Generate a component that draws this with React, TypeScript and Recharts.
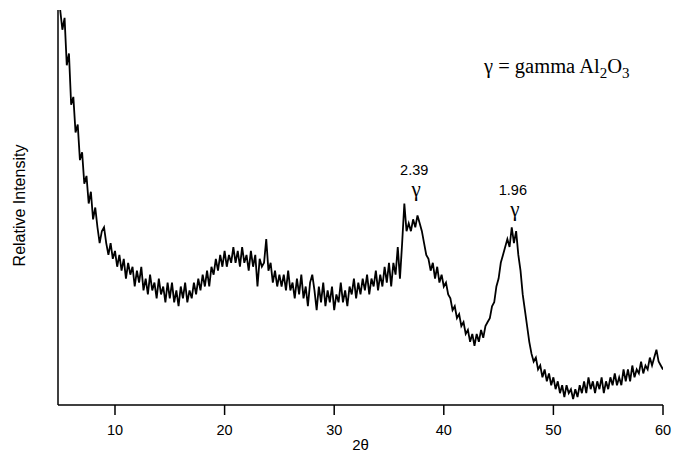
import React from 'react';
import { LineChart, Line, XAxis, YAxis, ReferenceDot } from 'recharts';

// 2θ sampling of the scan
const START_2THETA = 5.0;
const STEP_2THETA = 0.2;

const intensity: number[] = [
  100, 95, 98, 86, 89, 76, 78, 69, 71, 62, // 5.0
  64, 56, 58, 51, 54, 47, 50, 45, 41, 44, // 7.0
  45, 41, 38, 41, 37, 39, 35, 38, 34, 37, // 9.0
  32, 36, 33, 35, 30, 34, 31, 35, 29, 32, // 11.0
  28, 33, 29, 31, 27, 32, 28, 30, 26, 31, // 13.0
  27, 31, 26, 29, 25, 30, 27, 31, 26, 29, // 15.0
  27, 31, 28, 32, 29, 33, 30, 34, 30, 35, // 17.0
  33, 37, 34, 38, 35, 39, 35, 38, 36, 40, // 19.0
  36, 39, 35, 40, 36, 38, 34, 39, 35, 38, // 21.0
  30, 37, 35, 36, 42, 34, 36, 31, 34, 30, // 23.0
  33, 30, 33, 29, 34, 29, 31, 27, 32, 28, // 25.0
  33, 27, 30, 25, 31, 33, 29, 24, 30, 26, // 27.0
  31, 25, 29, 26, 30, 24, 28, 26, 31, 26, // 29.0
  29, 25, 30, 28, 32, 27, 31, 28, 32, 29, // 31.0
  33, 28, 32, 30, 34, 29, 33, 30, 35, 31, // 33.0
  36, 30, 36, 33, 40, 32, 41, 51, 44, 46, // 35.0
  44, 47, 45, 48, 46, 44, 41, 38, 37, 34, // 37.0
  36, 32, 35, 31, 33, 30, 31, 28, 27, 24, // 39.0
  25, 22, 23, 20, 21, 18, 19, 16, 18, 15, // 41.0
  18, 16, 19, 17, 20, 21, 22, 25, 26, 30, // 43.0
  32, 36, 38, 40, 42, 40, 45, 41, 44, 38, // 45.0
  34, 28, 24, 20, 16, 13, 11, 12, 9, 10, // 47.0
  7, 9, 6, 8, 5, 7, 4, 6, 3, 5, // 49.0
  2, 5, 3, 4, 1.5, 4, 2, 5, 3, 6, // 51.0
  3, 7, 4, 6, 3, 6, 4, 7, 3, 6, // 53.0
  4, 7, 5, 8, 5, 7, 5, 9, 6, 9, // 55.0
  6, 10, 7, 9, 8, 11, 8, 10, 9, 12, // 57.0
  10, 12, 14, 11, 10, 9, // 59.0 - 60.0
];

const xTicks = [10, 20, 30, 40, 50, 60];
const xDomain: [number, number] = [4.8, 60];
const yDomain: [number, number] = [0, 100];

// Peak annotations (d-spacing, phase)
const peakX = [37.3, 46.3];
const peakLabelY = [59.5, 54.5];
const peakSpacing = ['2.39', '1.96'];
const peakPhase = ['γ', 'γ'];

const xAxisTitle = '2θ';
const yAxisTitle = 'Relative Intensity';

const data = intensity.map((v, i) => ({
  x: Math.round((START_2THETA + i * STEP_2THETA) * 10) / 10,
  y: v,
}));

const SANS = '"Liberation Sans", Arial, Helvetica, sans-serif';
const SERIF = '"Liberation Serif", "Times New Roman", serif';

const makePeakLabel = (spacing: string, phase: string) => (props: any) => {
  const vb = props.viewBox || {};
  const cx = (vb.x ?? 0) + (vb.width ?? 0) / 2;
  const cy = (vb.y ?? 0) + (vb.height ?? 0) / 2;
  return (
    <g>
      <text x={cx} y={cy} dy="0.35em" textAnchor="middle" fontFamily={SANS} fontSize={14.5} fill="#000">
        {spacing}
      </text>
      <text x={cx + 2} y={cy + 19} dy="0.35em" textAnchor="middle" fontFamily={SERIF} fontSize={21} fill="#000">
        {phase}
      </text>
    </g>
  );
};

const YTitle = (props: any) => {
  const vb = props.viewBox || {};
  const cy = (vb.y ?? 0) + (vb.height ?? 0) / 2 - 2;
  const cx = 19;
  return (
    <text
      x={cx}
      y={cy}
      transform={`rotate(-90 ${cx} ${cy})`}
      textAnchor="middle"
      dy="0.35em"
      fontFamily={SANS}
      fontSize={16}
      fill="#000"
    >
      {yAxisTitle}
    </text>
  );
};

export default function App() {
  return (
    <div style={{ position: 'absolute', left: 0, top: 0, width: 673, height: 454, background: '#fff' }}>
      <LineChart width={673} height={454} data={data} margin={{ top: 10, right: 10, bottom: 0, left: 0 }}>
        <XAxis
          type="number"
          dataKey="x"
          domain={xDomain}
          ticks={xTicks}
          allowDataOverflow
          height={49}
          tickSize={10}
          tickMargin={10}
          axisLine={{ stroke: '#000', strokeWidth: 1.5 }}
          tickLine={{ stroke: '#000', strokeWidth: 1.5 }}
          tick={{ fill: '#000', fontFamily: SANS, fontSize: 14.5 }}
          label={{ value: xAxisTitle, position: 'insideBottom', offset: 4, fill: '#000', fontFamily: SANS, fontSize: 15 }}
        />
        <YAxis
          type="number"
          domain={yDomain}
          width={58}
          tick={false}
          tickLine={false}
          axisLine={{ stroke: '#000', strokeWidth: 1.5 }}
          label={<YTitle />}
        />
        <Line
          type="linear"
          dataKey="y"
          stroke="#000"
          strokeWidth={1.8}
          dot={false}
          isAnimationActive={false}
        />
        {peakX.map((px, i) => (
          <ReferenceDot
            key={i}
            x={px}
            y={peakLabelY[i]}
            r={0}
            fill="none"
            stroke="none"
            label={makePeakLabel(peakSpacing[i], peakPhase[i])}
          />
        ))}
      </LineChart>
      <svg
        width={673}
        height={454}
        style={{ position: 'absolute', left: 0, top: 0, pointerEvents: 'none' }}
      >
        <text x={484} y={73} fontFamily={SERIF} fontSize={20.5} fill="#000">
          γ = gamma Al
          <tspan dy={5} fontSize={15}>2</tspan>
          <tspan dy={-5}>O</tspan>
          <tspan dy={5} fontSize={15}>3</tspan>
        </text>
      </svg>
    </div>
  );
}
